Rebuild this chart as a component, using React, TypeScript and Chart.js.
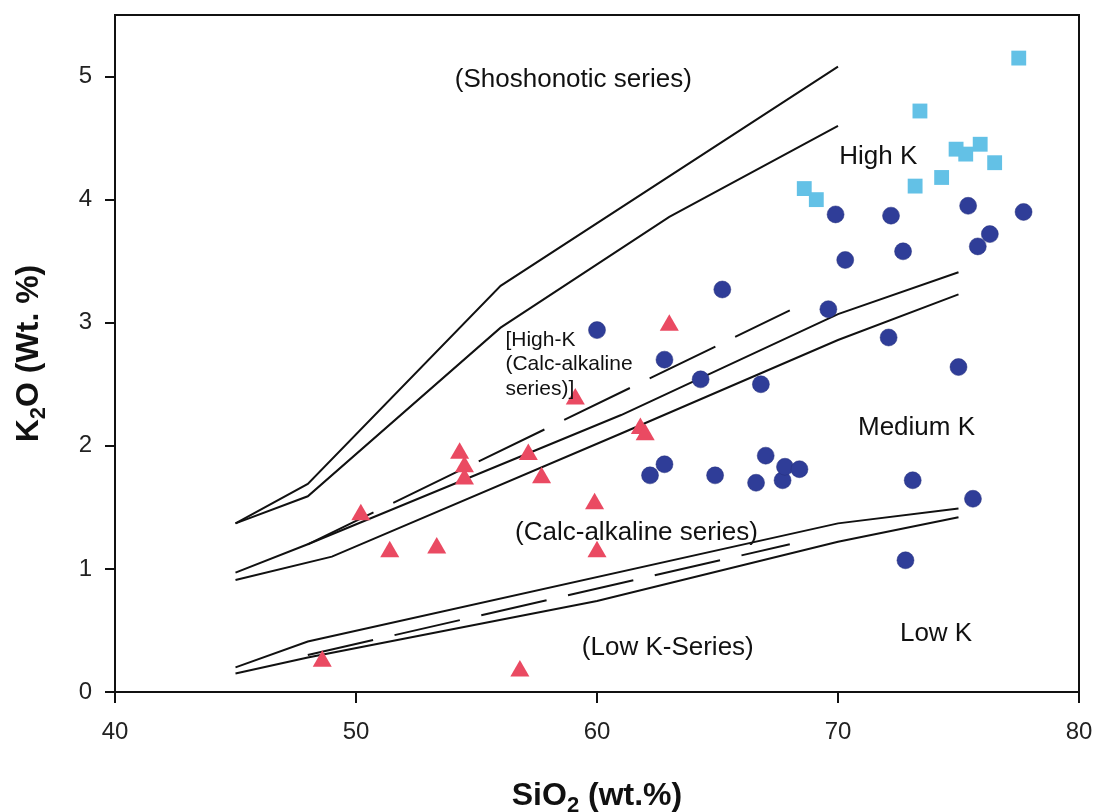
import React, { useEffect, useRef } from 'react';
import { Chart, registerables } from 'chart.js';

Chart.register(...registerables);

// ---- axis ticks ----
const xTicks = [40, 50, 60, 70, 80];
const yTicks = [0, 1, 2, 3, 4, 5];

// ---- samples: red triangles ----
const triSiO2 = [48.6, 56.8, 50.2, 51.4, 53.35, 54.3, 54.5, 54.5, 57.15, 57.7, 59.1, 59.9, 60.0, 61.8, 62.0, 63.0];
const triK2O = [0.25, 0.17, 1.44, 1.14, 1.17, 1.94, 1.83, 1.73, 1.93, 1.74, 2.38, 1.53, 1.14, 2.14, 2.09, 2.98];

// ---- samples: blue circles ----
const circSiO2 = [60.0, 62.8, 64.3, 65.2, 66.8, 62.2, 62.8, 64.9, 67.0, 66.6, 67.7, 67.8, 68.4, 69.6, 69.9, 70.3, 72.1, 72.2, 72.7, 72.8, 73.1, 75.0, 75.4, 75.6, 75.8, 76.3, 77.7];
const circK2O = [2.94, 2.70, 2.54, 3.27, 2.50, 1.76, 1.85, 1.76, 1.92, 1.70, 1.72, 1.83, 1.81, 3.11, 3.88, 3.51, 2.88, 3.87, 3.58, 1.07, 1.72, 2.64, 3.95, 1.57, 3.62, 3.72, 3.90];

// ---- samples: light-blue squares ----
const sqSiO2 = [68.6, 69.1, 73.2, 73.4, 74.3, 74.9, 75.3, 75.9, 76.5, 77.5];
const sqK2O = [4.09, 4.00, 4.11, 4.72, 4.18, 4.41, 4.37, 4.45, 4.30, 5.15];

// ---- boundary lines ----
const shoshUpperSiO2 = [45, 48, 56, 70];
const shoshUpperK2O = [1.37, 1.69, 3.30, 5.08];
const shoshLowerSiO2 = [45, 48, 56, 63, 70];
const shoshLowerK2O = [1.37, 1.59, 2.96, 3.86, 4.60];
const highKUpperSiO2 = [45, 48, 61, 70, 75];
const highKUpperK2O = [0.97, 1.20, 2.25, 3.07, 3.41];
const highKLowerSiO2 = [45, 49, 61, 70, 75];
const highKLowerK2O = [0.91, 1.10, 2.10, 2.86, 3.23];
const highKDashSiO2 = [48, 68];
const highKDashK2O = [1.2, 3.1];
const lowKUpperSiO2 = [45, 48, 70, 75];
const lowKUpperK2O = [0.20, 0.41, 1.37, 1.49];
const lowKLowerSiO2 = [45, 48, 60, 70, 75];
const lowKLowerK2O = [0.15, 0.28, 0.74, 1.22, 1.42];
const lowKDashSiO2 = [48, 68];
const lowKDashK2O = [0.3, 1.2];

// ---- field labels (text, anchor in data units) ----
const fieldLabels = [
  { text: '(Shoshonotic series)', x: 54.1, y: 4.97, size: 26 },
  { text: 'High K', x: 70.05, y: 4.35, size: 26 },
  { text: '[High-K', x: 56.2, y: 2.86, size: 21 },
  { text: '(Calc-alkaline', x: 56.2, y: 2.66, size: 21 },
  { text: 'series)]', x: 56.2, y: 2.46, size: 21 },
  { text: 'Medium K', x: 70.83, y: 2.15, size: 26 },
  { text: '(Calc-alkaline series)', x: 56.6, y: 1.29, size: 26 },
  { text: '(Low K-Series)', x: 59.37, y: 0.36, size: 26 },
  { text: 'Low K', x: 72.57, y: 0.47, size: 26 },
];

const FONT = '"Liberation Sans", Arial, Helvetica, sans-serif';

const pts = (xs: number[], ys: number[]) => xs.map((x, i) => ({ x, y: ys[i] }));

type Part = { text: string; sub?: boolean };

function drawRich(ctx: CanvasRenderingContext2D, parts: Part[], cx: number, baseline: number) {
  const big = `bold 32px ${FONT}`;
  const small = `bold 22px ${FONT}`;
  let total = 0;
  const widths = parts.map((p) => {
    ctx.font = p.sub ? small : big;
    const w = ctx.measureText(p.text).width;
    total += w;
    return w;
  });
  let x = cx - total / 2;
  ctx.textAlign = 'left';
  ctx.textBaseline = 'alphabetic';
  parts.forEach((p, i) => {
    ctx.font = p.sub ? small : big;
    ctx.fillText(p.text, x, baseline + (p.sub ? 7 : 0));
    x += widths[i];
  });
}

const overlayPlugin = {
  id: 'overlay',
  afterDraw(chart: any) {
    const { ctx, chartArea: a, scales } = chart;
    ctx.save();
    ctx.strokeStyle = '#111';
    ctx.lineWidth = 2;
    ctx.strokeRect(a.left, a.top, a.right - a.left, a.bottom - a.top);

    ctx.fillStyle = '#111';
    ctx.textAlign = 'left';
    ctx.textBaseline = 'middle';
    for (const lab of fieldLabels) {
      ctx.font = `${lab.size}px ${FONT}`;
      ctx.fillText(lab.text, scales.x.getPixelForValue(lab.x), scales.y.getPixelForValue(lab.y));
    }

    ctx.fillStyle = '#111';
    drawRich(ctx, [{ text: 'SiO' }, { text: '2', sub: true }, { text: ' (wt.%)' }], (a.left + a.right) / 2, 805);

    ctx.save();
    ctx.translate(38, (a.top + a.bottom) / 2);
    ctx.rotate(-Math.PI / 2);
    drawRich(ctx, [{ text: 'K' }, { text: '2', sub: true }, { text: 'O (Wt. %)' }], 0, 0);
    ctx.restore();

    ctx.restore();
  },
};

export default function App() {
  const ref = useRef<HTMLCanvasElement>(null);

  useEffect(() => {
    if (!ref.current) return;
    const line = (xs: number[], ys: number[], dash: number[] = []) => ({
      data: pts(xs, ys),
      showLine: true,
      borderColor: '#111',
      borderWidth: 2,
      borderDash: dash,
      pointRadius: 0,
      fill: false,
      tension: 0,
      order: 2,
    });
    const chart = new Chart(ref.current, {
      type: 'scatter',
      data: {
        datasets: [
          line(shoshUpperSiO2, shoshUpperK2O),
          line(shoshLowerSiO2, shoshLowerK2O),
          line(highKUpperSiO2, highKUpperK2O),
          line(highKLowerSiO2, highKLowerK2O),
          line(highKDashSiO2, highKDashK2O, [73, 22]),
          line(lowKUpperSiO2, lowKUpperK2O),
          line(lowKLowerSiO2, lowKLowerK2O),
          line(lowKDashSiO2, lowKDashK2O, [67, 22]),
          {
            data: pts(triSiO2, triK2O),
            pointStyle: 'triangle',
            pointRadius: 11,
            backgroundColor: '#ea4a62',
            borderColor: '#ea4a62',
            borderWidth: 0,
            order: 0,
          } as any,
          {
            data: pts(circSiO2, circK2O),
            pointStyle: 'circle',
            pointRadius: 8.5,
            backgroundColor: '#2f3d98',
            borderColor: '#26317d',
            borderWidth: 0.5,
            order: 0,
          } as any,
          {
            data: pts(sqSiO2, sqK2O),
            pointStyle: 'rect',
            pointRadius: 10.5,
            backgroundColor: '#63c1e6',
            borderWidth: 0,
            order: 0,
          } as any,
        ],
      },
      options: {
        responsive: false,
        animation: false,
        events: [],
        layout: { padding: { top: 15, right: 16, left: 0, bottom: 0 } },
        plugins: { legend: { display: false }, tooltip: { enabled: false } },
        scales: {
          x: {
            type: 'linear',
            min: 40,
            max: 80,
            afterBuildTicks: (s: any) => {
              s.ticks = xTicks.map((v) => ({ value: v }));
            },
            afterFit: (s: any) => {
              s.height = 120;
              s.paddingLeft = 0;
              s.paddingRight = 0;
            },
            border: { display: false },
            grid: { display: true, drawOnChartArea: false, drawTicks: true, tickLength: 11, color: '#111', lineWidth: 2 },
            ticks: { color: '#222', padding: 15, font: { family: FONT, size: 24 } },
          },
          y: {
            type: 'linear',
            min: 0,
            max: 5.5,
            afterBuildTicks: (s: any) => {
              s.ticks = yTicks.map((v) => ({ value: v }));
            },
            afterFit: (s: any) => {
              s.width = 115;
              s.paddingTop = 0;
              s.paddingBottom = 0;
            },
            border: { display: false },
            grid: { display: true, drawOnChartArea: false, drawTicks: true, tickLength: 10, color: '#111', lineWidth: 2 },
            ticks: { color: '#222', padding: 13, font: { family: FONT, size: 24 } },
          },
        },
      },
      plugins: [overlayPlugin],
    } as any);
    return () => chart.destroy();
  }, []);

  return (
    <div style={{ position: 'absolute', left: 0, top: 0, width: 1095, height: 812, background: '#fff' }}>
      <canvas ref={ref} width={1095} height={812} />
    </div>
  );
}
